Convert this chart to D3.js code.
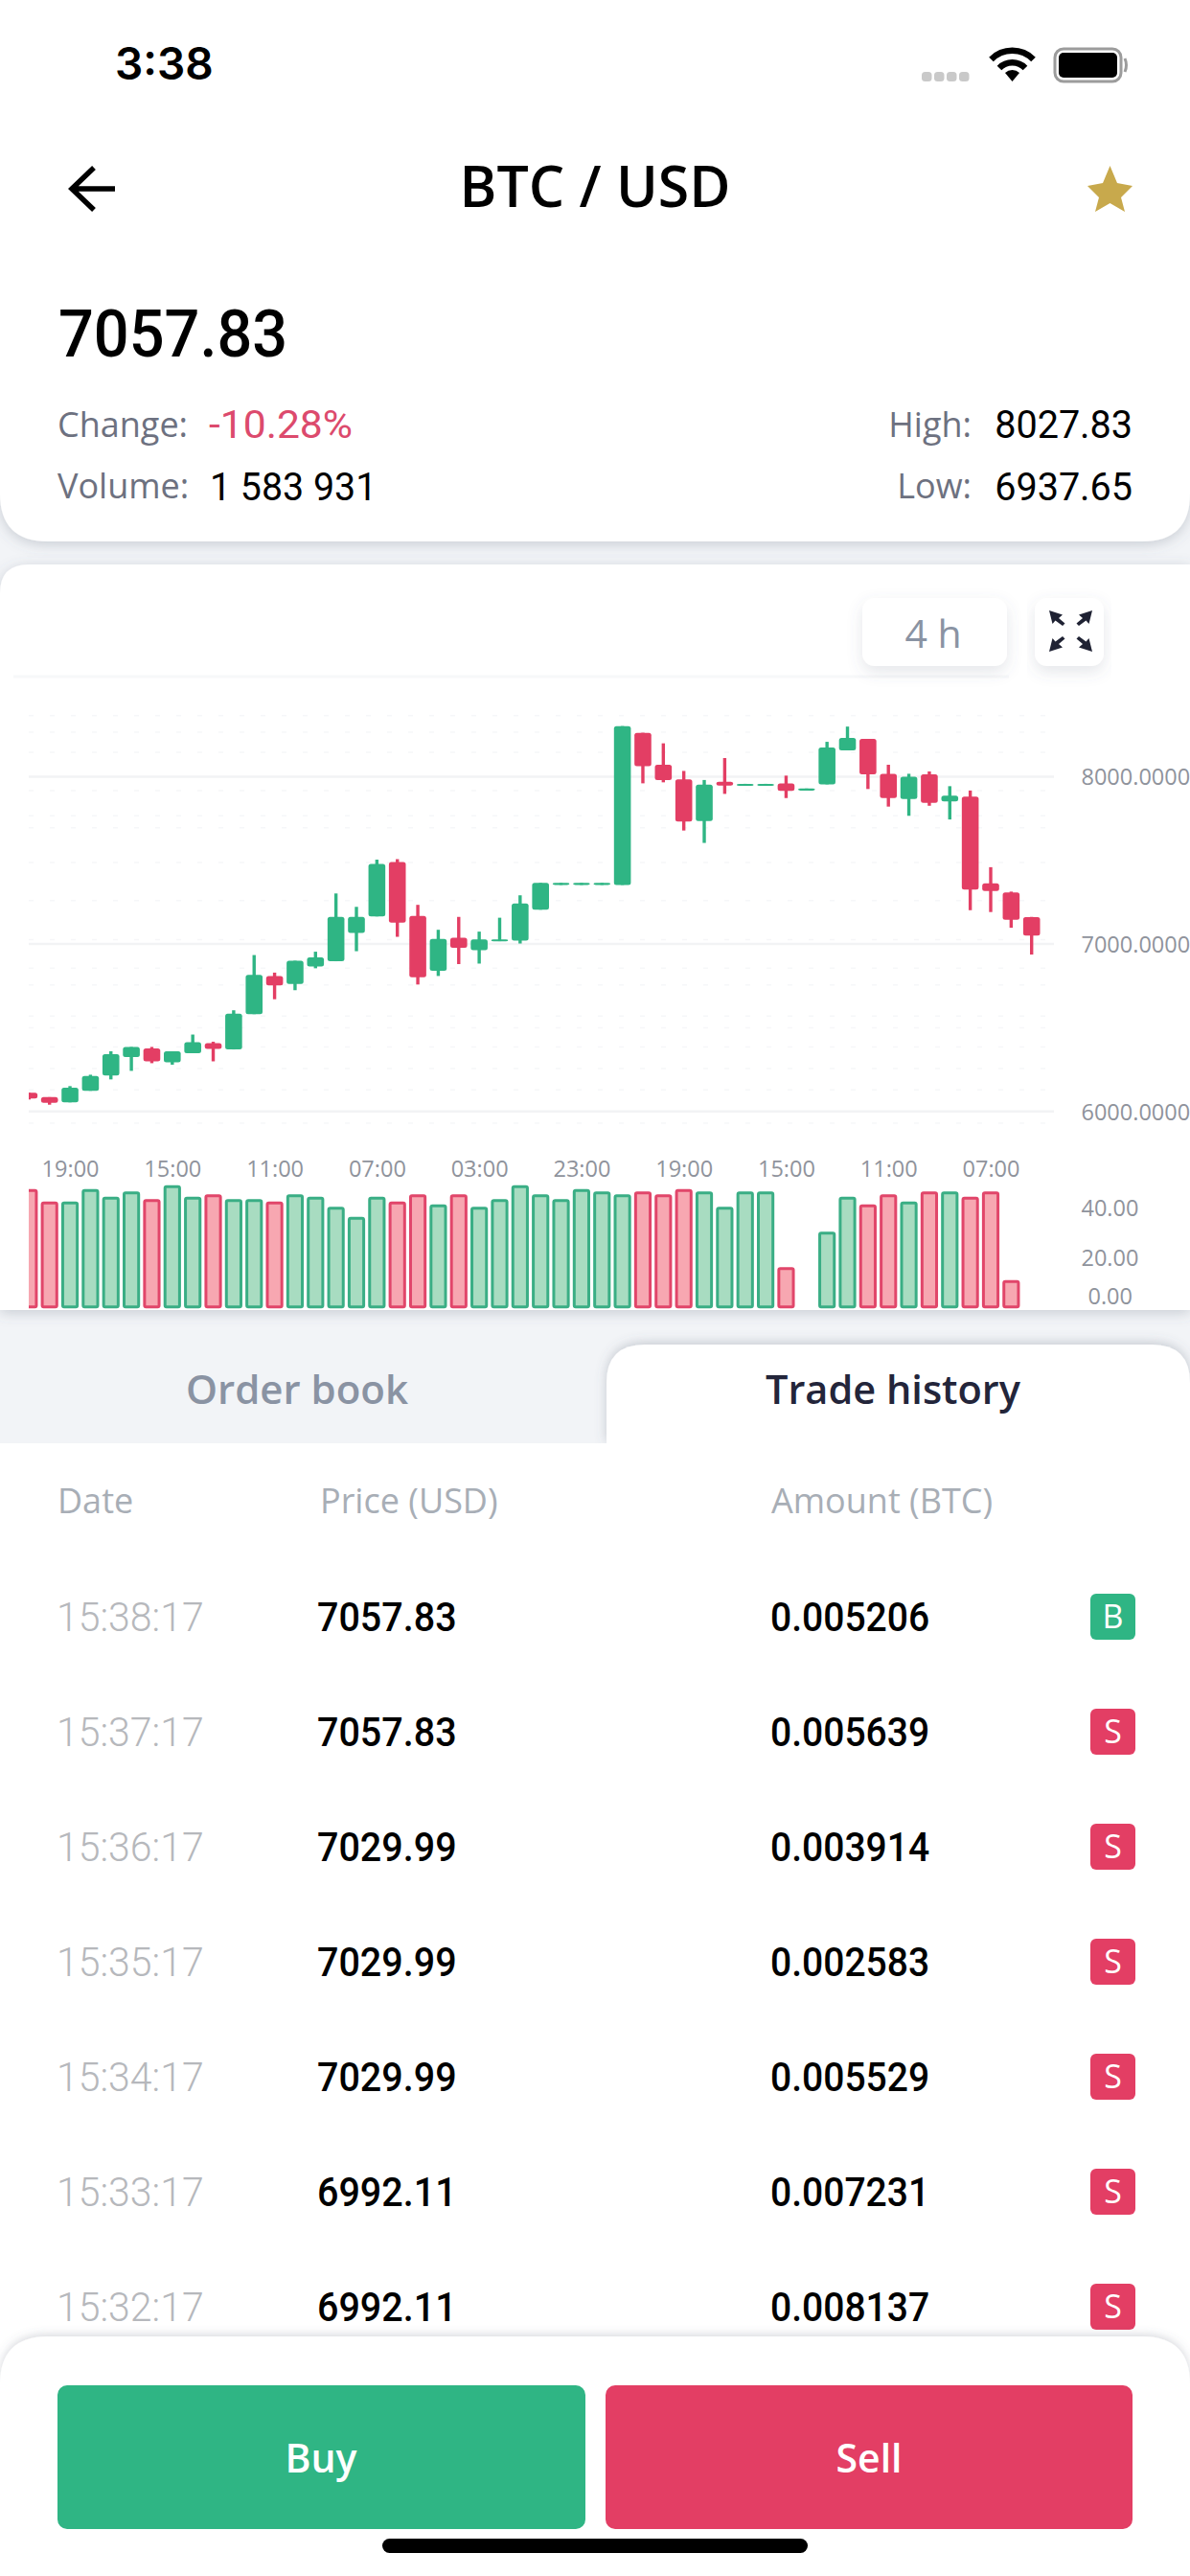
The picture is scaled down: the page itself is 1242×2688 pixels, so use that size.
<!DOCTYPE html>
<html><head><meta charset="utf-8">
<script src="https://cdnjs.cloudflare.com/ajax/libs/d3/7.8.5/d3.min.js"></script>
<style>html,body{margin:0;padding:0;background:#f2f4f7}svg{display:block}text{font-family:"Open Sans",sans-serif}</style>
</head><body><div id="app"></div>
<script>
const opens =[6111,6085,6054,6123,6214,6325,6376,6293,6348,6407,6370,6581,6809,6761,6866,6897,7066,7165,7490,7168,6840,7037,6963,7017,7020,7205,7353,7353,7353,7353,8262,8071,7983,7735,7969,7949,7949,7960,7917,7954,8157,8225,8017,7866,8014,7852,7880,7362,7308,7160];
const closes=[6077,6051,6142,6211,6342,6385,6299,6359,6413,6373,6584,6815,6752,6900,6920,7162,7162,7479,7128,6801,7031,6977,7028,7028,7242,7365,7365,7365,7365,8302,8063,7980,7732,7952,7946,7957,7957,7915,7929,8174,8231,8014,7872,8000,7843,7886,7325,7316,7145,7051];
const highs =[6111,6085,6151,6219,6359,6385,6385,6359,6459,6416,6604,6934,6829,6900,6954,7302,7222,7504,7507,7234,7085,7162,7074,7157,7291,7365,7365,7365,7365,8302,8262,8199,8034,7980,8111,7957,7957,8006,7929,8208,8299,8225,8071,8017,8031,7943,7917,7459,7313,7162];
const lows  =[6071,6040,6054,6123,6191,6242,6288,6279,6348,6299,6370,6581,6670,6724,6855,6897,6957,7165,7043,6758,6809,6880,6883,7017,7003,7205,7353,7353,7353,7353,7960,7966,7678,7604,7897,7949,7949,7872,7917,7954,8157,7926,7821,7766,7826,7744,7202,7191,7097,6937];
const volumes=[46.7,41.7,41.7,46.7,43.6,45.7,42.7,48.2,43.6,44.6,42.7,42.7,41.7,44.6,43.6,39.6,35.6,43.6,41.7,44.6,40.6,44.6,39.6,42.7,48.2,44.6,42.7,46.7,45.7,44.6,45.7,44.6,46.7,45.7,39.6,45.7,45.7,15.6,0,29.7,43.6,40.6,44.6,41.7,45.7,45.7,43.6,45.7,10.5,0];
const volumeSide=["s","s","b","b","b","b","s","b","b","s","b","b","s","b","b","b","b","b","s","s","b","s","b","b","b","b","b","b","b","b","s","s","s","b","b","b","b","s","b","b","b","s","s","b","s","b","s","s","s","b"];
const timeTicks=[2,7,12,17,22,27,32,37,42,47];
const timeLabels=["19:00","15:00","11:00","07:00","03:00","23:00","19:00","15:00","11:00","07:00"];
const priceTicks=[6000,7000,8000];
const volumeTicks=[0,20,40];
const faintRows=[8365,8265,8145,7917,7766,7695,7487,7259,7026,6855,6755,6570,6499,6385,6256,6128,5929];
const tradeTimes=["15:38:17","15:37:17","15:36:17","15:35:17","15:34:17","15:33:17","15:32:17"];
const tradePrices=["7057.83","7057.83","7029.99","7029.99","7029.99","6992.11","6992.11"];
const tradeAmounts=["0.005206","0.005639","0.003914","0.002583","0.005529","0.007231","0.008137"];
const tradeSides=["B","S","S","S","S","S","S"];

const GREEN="#2fb584",RED="#e33e64";
const svg=d3.select("#app").append("svg").attr("width",1242).attr("height",2688).attr("viewBox","0 0 1242 2688");
const defs=svg.append("defs");
function shadow(id,dy,blur,op){const f=defs.append("filter").attr("id",id).attr("x","-10%").attr("y","-30%").attr("width","120%").attr("height","160%");
 f.append("feDropShadow").attr("dx",0).attr("dy",dy).attr("stdDeviation",blur).attr("flood-color","#5a6478").attr("flood-opacity",op);}
shadow("cardS",3,7,.28);shadow("btnS",6,8,.16);shadow("tabS",-2,6,.30);shadow("footS",-2,5,.25);
defs.append("clipPath").attr("id","plotClip").append("rect").attr("x",30).attr("y",700).attr("width",1075).attr("height",666);
defs.append("clipPath").attr("id","tabClip").append("rect").attr("x",600).attr("y",1380).attr("width",642).attr("height",126);

svg.append("rect").attr("width",1242).attr("height",2688).attr("fill","#f2f4f7");
function label(g,x,cy,s,fs,o={}){const t=g.append("text").attr("x",x).attr("y",cy+0.357*fs).attr("font-size",fs)
 .attr("fill",o.fill||"#000").attr("font-weight",o.w||400).attr("text-anchor",o.a||"start").style("font-family",o.f||'"Open Sans"').text(s);
 if(o.sx)t.attr("transform",`translate(${x},0) scale(${o.sx},1) translate(${-x},0)`);return t;}
const R='Roboto';

// chart card
svg.append("path").attr("d","M0 619 Q0 589 30 589 H1242 V1367 H0 Z").attr("fill","#fff").attr("filter","url(#cardS)");
// header card
svg.append("path").attr("d","M0 0 H1242 V515 Q1242 565 1192 565 H50 Q0 565 0 515 Z").attr("fill","#fff").attr("filter","url(#cardS)");

const hdr=svg.append("g");
label(hdr,120,67,"3:38",46,{f:"Inter",w:600});
[962,975,988,1001].forEach(x=>hdr.append("rect").attr("x",x).attr("y",75).attr("width",10.5).attr("height",10).attr("rx",3.5).attr("fill","#c9c9c9"));
const wifi=hdr.append("g").attr("fill","none").attr("stroke","#000").attr("stroke-width",6.5).attr("stroke-linecap","butt");
wifi.append("path").attr("d","M1034.5 62 A31 31 0 0 1 1078.5 62");
wifi.append("path").attr("d","M1043 71 A19 19 0 0 1 1070 71");
hdr.append("path").attr("d","M1056.5 85 L1049 76 A11 11 0 0 1 1064 76 Z").attr("fill","#000");
hdr.append("rect").attr("x",1101).attr("y",51).attr("width",69).attr("height",34).attr("rx",9).attr("fill","none").attr("stroke","#9c9c9c").attr("stroke-width",3);
hdr.append("rect").attr("x",1105).attr("y",55).attr("width",61).attr("height",26).attr("rx",5).attr("fill","#000");
hdr.append("path").attr("d","M1174 61 Q1177 68 1174 75").attr("fill","none").attr("stroke","#9c9c9c").attr("stroke-width",3);

hdr.append("path").attr("d","M98 175 L75 197 L98 219 M75 197 H120").attr("fill","none").attr("stroke","#000").attr("stroke-width",5.5);
label(hdr,621,195,"BTC / USD",59,{w:600,a:"middle"});
hdr.append("path").attr("d","M1158.5 173 L1166 191 L1182 194 L1170 206 L1174 221 L1158.5 212 L1143 221 L1147 206 L1135 194 L1151 191 Z").attr("fill","#c8a94c");
label(hdr,61,347,"7057.83",69,{f:R,w:500,sx:.94});
label(hdr,60,443,"Change:",36,{fill:"#6d7180"});
label(hdr,60,507,"Volume:",36,{fill:"#6d7180"});
label(hdr,218,442,"-10.28%",41,{f:R,fill:"#dc4a6d",w:450,sx:1.04});
label(hdr,219,507,"1 583 931",41,{f:R,w:450,sx:.96});
label(hdr,1014,443,"High:",36,{fill:"#6d7180",a:"end"});
label(hdr,1014,507,"Low:",36,{fill:"#6d7180",a:"end"});
label(hdr,1182,442,"8027.83",41,{f:R,w:450,a:"end",sx:.965});
label(hdr,1182,507,"6937.65",41,{f:R,w:450,a:"end",sx:.965});

// scales
const x=d3.scaleLinear().domain([0,49]).range([30.33,1076.7]);
const y=d3.scaleLinear().domain([6000,8000]).range([1159.7,810.4]);
const v=d3.scaleLinear().domain([0,40]).range([1364.7,1259.8]);
const idx=d3.range(opens.length);

// grid
const grid=svg.append("g");
grid.selectAll("line.f").data(faintRows).join("line").attr("class","f").attr("x1",30).attr("x2",1100).attr("y1",d=>y(d)).attr("y2",d=>y(d))
 .attr("stroke","#f6f7f9").attr("stroke-width",1.5).attr("stroke-dasharray","5 17");
grid.selectAll("line.m").data(priceTicks).join("line").attr("class","m").attr("x1",30).attr("x2",1100).attr("y1",d=>y(d)).attr("y2",d=>y(d))
 .attr("stroke","#f2f3f5").attr("stroke-width",2.5);
grid.append("line").attr("x1",14).attr("x2",1053).attr("y1",706).attr("y2",706).attr("stroke","#f7f8f9").attr("stroke-width",3);

// candles
const plot=svg.append("g").attr("clip-path","url(#plotClip)");
const color=i=>closes[i]>=opens[i]?GREEN:RED;
plot.selectAll("rect.wick").data(idx).join("rect").attr("class","wick")
 .attr("x",i=>x(i)-1.7).attr("width",3.4).attr("y",i=>y(highs[i])).attr("height",i=>y(lows[i])-y(highs[i])).attr("fill",color);
plot.selectAll("rect.body").data(idx).join("rect").attr("class","body")
 .attr("x",i=>x(i)-8.8).attr("width",17.6).attr("rx",2.5)
 .attr("y",i=>y(Math.max(opens[i],closes[i]))).attr("height",i=>Math.max(2,y(Math.min(opens[i],closes[i]))-y(Math.max(opens[i],closes[i])))).attr("fill",color);

// volume bars
plot.selectAll("rect.vol").data(idx.filter(i=>volumes[i]>0)).join("rect").attr("class","vol")
 .attr("x",i=>x(i)-7.6).attr("width",15.2).attr("rx",1.5)
 .attr("y",i=>v(volumes[i])).attr("height",i=>v(0)-v(volumes[i])-1)
 .attr("fill",i=>volumeSide[i]==="b"?"#a8dcc1":"#f7a7b1")
 .attr("stroke",i=>volumeSide[i]==="b"?"#3aae85":"#e1466a").attr("stroke-width",3);

// axes
function styleAxis(g){g.select(".domain").remove();g.selectAll("line").remove();
 g.selectAll("text").style("font-family",'"Open Sans"').attr("font-size",23.5).attr("fill","#8f939c");}
svg.append("g").attr("transform","translate(0,1220)").call(d3.axisBottom(x).tickValues(timeTicks).tickSize(0).tickFormat(d=>timeLabels[timeTicks.indexOf(d)])).call(styleAxis)
 .selectAll("text").attr("y",0).attr("dy","0.36em");
svg.append("g").attr("transform","translate(1128.5,0)").call(d3.axisRight(y).tickValues(priceTicks).tickSize(0).tickPadding(0).tickFormat(d3.format(".4f"))).call(styleAxis)
 .selectAll("text").attr("x",0).attr("dy","0.36em");
svg.append("g").attr("transform","translate(1128.5,0)").call(d3.axisRight(v).tickValues(volumeTicks).tickSize(0).tickPadding(0).tickFormat(d3.format(".2f"))).call(styleAxis)
 .selectAll("text").attr("x",d=>d===0?7:0).attr("dy",d=>d===0?"-0.16em":"0.36em");

// 4 h + expand buttons
const tools=svg.append("g");
tools.append("rect").attr("x",900).attr("y",624).attr("width",151).attr("height",71).attr("rx",13).attr("fill","#fff").attr("filter","url(#btnS)");
label(tools,974,661,"4 h",41,{fill:"#8a93a3",a:"middle"});
tools.append("rect").attr("x",1080).attr("y",624).attr("width",72).attr("height",71).attr("rx",13).attr("fill","#fff").attr("filter","url(#btnS)");
const arrow="M-22.5 -21.5 L-8.5 -17 L-12.5 -13.5 L-6 -8 L-8.5 -5.5 L-16 -11 L-19 -7.5 Z";
[[1,1],[-1,1],[1,-1],[-1,-1]].forEach(([sx,sy])=>tools.append("path").attr("d",arrow).attr("fill","#1f2233").attr("transform",`translate(1117.5,658.5) scale(${sx},${sy})`));

// tabs + table
svg.append("rect").attr("x",0).attr("y",1506).attr("width",1242).attr("height",1182).attr("fill","#fff");
const tabs=svg.append("g");
tabs.append("path").attr("d","M633 1506 V1443 Q633 1403 673 1403 H1202 Q1242 1403 1242 1443 V1506 Z").attr("fill","#fff").attr("filter","url(#tabS)").attr("clip-path","url(#tabClip)");
label(tabs,310,1450,"Order book",42,{fill:"#8a93a3",w:600,a:"middle"});
label(tabs,932,1450,"Trade history",41.5,{fill:"#23253a",w:600,a:"middle"});
const tbl=svg.append("g");
label(tbl,60,1566,"Date",36,{fill:"#a8aeb6"});
label(tbl,334,1566,"Price (USD)",36,{fill:"#a8aeb6"});
label(tbl,805,1566,"Amount (BTC)",36,{fill:"#a8aeb6"});
const row=d3.scalePoint().domain(d3.range(tradeTimes.length)).range([1687,2407]);
tradeTimes.forEach((t,i)=>{const c=row(i);
 label(tbl,59,c,t,42,{f:R,fill:"#b6b8bc",w:300,sx:.977});
 label(tbl,331,c,tradePrices[i],42,{f:R,w:500,sx:.94});
 label(tbl,804,c,tradeAmounts[i],42,{f:R,w:500,sx:.93});
 tbl.append("rect").attr("x",1138).attr("y",c-24).attr("width",47).attr("height",48).attr("rx",6).attr("fill",tradeSides[i]==="B"?GREEN:RED);
 label(tbl,1161.5,c,tradeSides[i],34,{fill:"#fff",a:"middle"});
});

// footer
const foot=svg.append("g");
foot.append("path").attr("d","M0 2488 Q0 2438 50 2438 H1192 Q1242 2438 1242 2488 V2688 H0 Z").attr("fill","#fff").attr("filter","url(#footS)");
foot.append("rect").attr("x",60).attr("y",2489).attr("width",551).attr("height",150).attr("rx",10).attr("fill",GREEN);
foot.append("rect").attr("x",632).attr("y",2489).attr("width",550).attr("height",150).attr("rx",10).attr("fill",RED);
label(foot,335,2565,"Buy",41,{fill:"#fff",w:600,a:"middle"});
label(foot,907,2565,"Sell",41,{fill:"#fff",w:600,a:"middle"});
foot.append("rect").attr("x",399).attr("y",2649).attr("width",444).attr("height",15).attr("rx",7.5).attr("fill","#000");
</script></body></html>
